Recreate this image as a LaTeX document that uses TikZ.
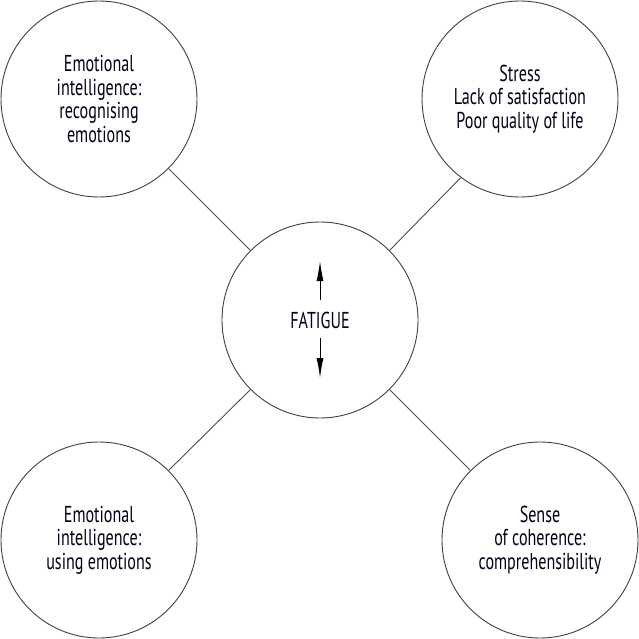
\documentclass[tikz,border=0pt]{standalone}
\usepackage{fontspec}
\setmainfont{PT Sans}[FakeStretch=0.7]
\usetikzlibrary{arrows.meta}
\begin{document}
\begin{tikzpicture}[x=1pt,y=-1pt,
  bubble/.style={circle,draw=black!75,line width=0.9pt,minimum size=196pt,inner sep=0pt,
    align=center,text=black!90!blue,font=\fontsize{23}{23.5}\selectfont},
  link/.style={draw=black!70,line width=0.9pt},
  tip/.style={-{Latex[length=20pt,width=7pt]},line width=1pt}]
\useasboundingbox (0,0) rectangle (639,639);
\node[bubble] (tl) at (99,99) {Emotional\\intelligence:\\recognising\\emotions};
\node[bubble] (tr) at (520,99) {Stress\\Lack of satisfaction\\Poor quality of life};
\node[bubble] (bl) at (99,540) {Emotional\\intelligence:\\using emotions};
\node[bubble] (br) at (540,540) {Sense\\of coherence:\\comprehensibility};
\node[bubble] (c) at (320,320) {FATIGUE};
\coordinate (ua) at (320,300);
\coordinate (ut) at (320,261);
\coordinate (da) at (320,338);
\coordinate (dt) at (320,378);
\draw[tip] (ua) -- (ut);
\draw[tip] (da) -- (dt);
\draw[link] (tl.-45) -- (c.135);
\draw[link] (tr.233) -- (c.45);
\draw[link] (bl.45) -- (c.225);
\draw[link] (br.135) -- (c.-45);
\end{tikzpicture}
\end{document}
